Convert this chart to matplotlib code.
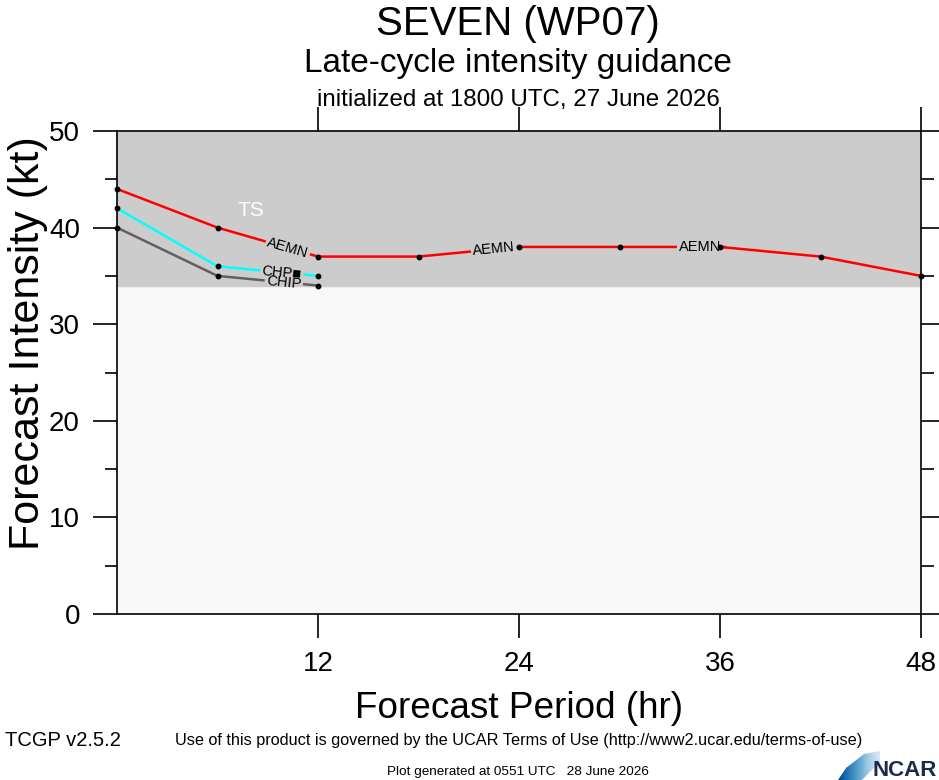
import numpy as np
import matplotlib.pyplot as plt
from matplotlib.patches import Polygon

plt.rcParams['font.family'] = ['Liberation Sans', 'DejaVu Sans']

# forecast hours and intensities (kt)
hours_aemn = [0, 6, 12, 18, 24, 30, 36, 42, 48]
aemn = [44, 40, 37, 37, 38, 38, 38, 37, 35]
hours_chp = [0, 6, 12]
chp = [42, 36, 35]
hours_chip = [0, 6, 12]
chip = [40, 35, 34]

ts_low, ts_high = 34, 50
xticks = [12, 24, 36, 48]
yticks = [0, 10, 20, 30, 40, 50]

fig = plt.figure(figsize=(9.39, 7.80), dpi=100)
ax = fig.add_axes([117/939, 1-614/780, 804/939, 483/780])

ax.set_xlim(0, 48)
ax.set_ylim(0, 50)
ax.set_facecolor('#f8f8f8')
ax.axhspan(ts_low, ts_high, color='#cccccc', zorder=0)
ax.text(8, 41.8, 'TS', color='white', fontsize=15, ha='center', va='center')

renderer = fig.canvas.get_renderer()

series = [
    (hours_aemn, aemn, 'red', 'AEMN', [(1, 0.7), (3, 0.75), (5, 0.8)]),
    (hours_chp, chp, 'cyan', 'CHP\u25a0', [(1, 0.64)]),
    (hours_chip, chip, '#606060', 'CHIP', [(1, 0.66)]),
]
for hrs, vals, col, name, labs in series[::-1]:
    labmap = dict(labs)
    px, py = [hrs[0]], [vals[0]]
    for i in range(len(hrs) - 1):
        x0, x1 = hrs[i], hrs[i + 1]
        y0, y1 = vals[i], vals[i + 1]
        if i in labmap:
            frac = labmap[i]
            xc, yc = x0 + frac*(x1 - x0), y0 + frac*(y1 - y0)
            ang = np.degrees(np.arctan2(y1 - y0, x1 - x0))
            t = ax.text(xc, yc, name, fontsize=10.5, ha='center', va='center',
                        rotation_mode='anchor', zorder=4)
            w = t.get_window_extent(renderer).width
            t.set_rotation(ang)
            t.set_transform_rotates_text(True)
            a = ax.transData.transform([x0, y0])
            b = ax.transData.transform([x1, y1])
            g = (w/2 + 3) / np.hypot(*(b - a))
            px += [x0 + (frac - g)*(x1 - x0), np.nan, x0 + (frac + g)*(x1 - x0)]
            py += [y0 + (frac - g)*(y1 - y0), np.nan, y0 + (frac + g)*(y1 - y0)]
        px.append(x1)
        py.append(y1)
    ax.plot(px, py, color=col, lw=1.8, zorder=3, clip_on=False)
    ax.plot(hrs, vals, 'o', color='black', ms=3.2, zorder=5, clip_on=False)

ax.set_xticks(xticks)
ax.set_yticks(yticks)
ax.set_yticks(np.arange(5, 50, 10), minor=True)
ax.tick_params(axis='both', which='major', direction='out', length=17, width=1.2,
               labelsize=20, top=True, right=True, pad=9.7)
ax.tick_params(axis='y', which='minor', direction='out', length=9, width=1.2,
               right=True)
ax.tick_params(axis='x', pad=9.4)
for s in ax.spines.values():
    s.set_linewidth(1.2)

fig.text(0.553, 1-718/780, 'Forecast Period (hr)', fontsize=26.6, ha='center',
         va='baseline')
fig.text(0.030, 0.56, 'Forecast Intensity (kt)', fontsize=31, ha='center', va='center',
         rotation=90)

fig.text(0.552, 1-35/780, 'SEVEN (WP07)', fontsize=29, ha='center', va='baseline')
fig.text(0.552, 1-72/780, 'Late-cycle intensity guidance', fontsize=24, ha='center',
         va='baseline')
fig.text(0.552, 1-106/780, 'initialized at 1800 UTC, 27 June 2026', fontsize=17.4,
         ha='center', va='baseline')

fig.text(0.552, 0.050, 'Use of this product is governed by the UCAR Terms of Use '
         '(http://www2.ucar.edu/terms-of-use)', fontsize=11.7, ha='center', va='center')
fig.text(0.005, 0.050, 'TCGP v2.5.2', fontsize=14.5, ha='left', va='center')
fig.text(0.552, 0.010, 'Plot generated at 0551 UTC   28 June 2026', fontsize=9.7,
         ha='center', va='center')

# NCAR logo
lax = fig.add_axes([838/939, 0, 101/939, 30/780])
lax.set_xlim(0, 101)
lax.set_ylim(0, 30)
lax.axis('off')
grad = np.linspace(0, 1, 256).reshape(1, -1)
im = lax.imshow(grad, extent=[0, 42, 0, 30], cmap='Blues_r', aspect='auto',
                vmin=-0.1, vmax=1.2)
clip = Polygon([[0, 0], [24, 0], [42, 18], [42, 29], [26, 26], [8, 12]],
               transform=lax.transData)
im.set_clip_path(clip)
lax.text(99, 10, 'NCAR', fontsize=16, fontweight='bold', color='#1a2a4a',
         ha='right', va='center')

fig.savefig('out.png', dpi=100)
